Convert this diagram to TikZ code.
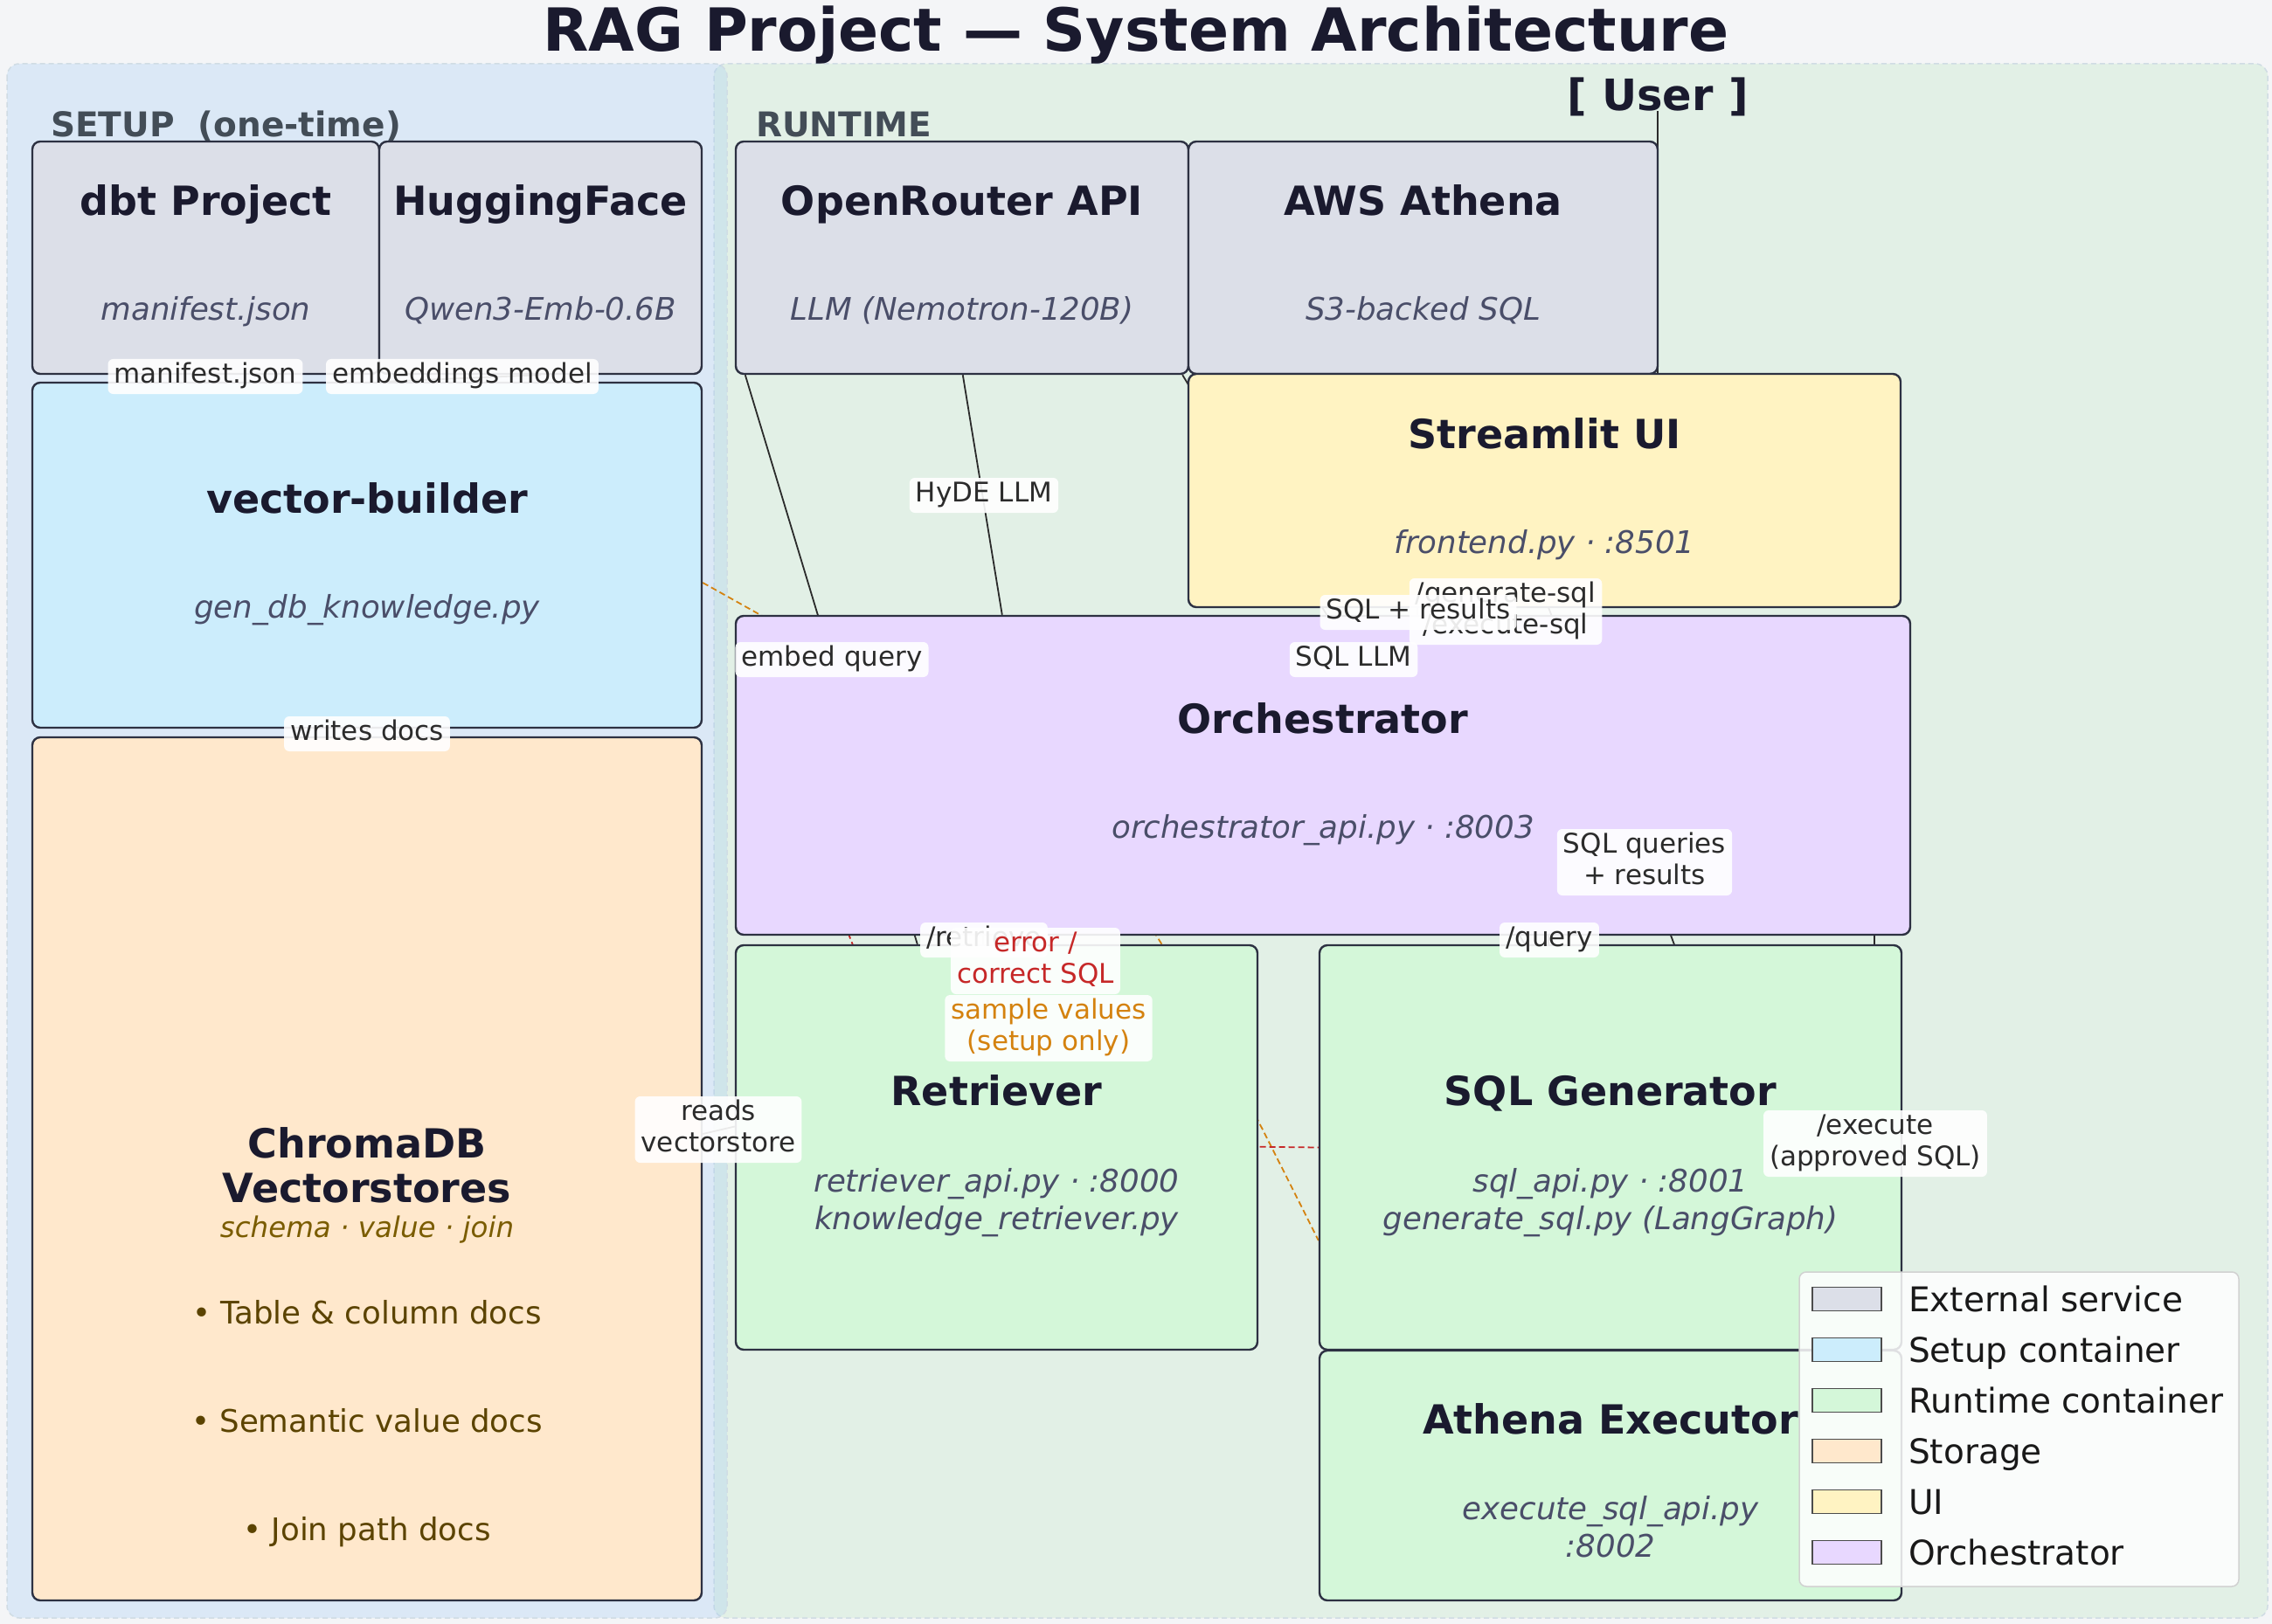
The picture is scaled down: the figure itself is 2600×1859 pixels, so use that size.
\documentclass[tikz,border=0pt]{standalone}
\usepackage{fontspec}
\setmainfont{DejaVu Sans}
\usetikzlibrary{calc}
\pgfdeclarelayer{panel}\pgfdeclarelayer{edges}\pgfdeclarelayer{labels}
\pgfsetlayers{panel,edges,main,labels}
\definecolor{bgc}{HTML}{F4F5F7}
\definecolor{runc}{HTML}{E2F0E6}
\definecolor{setupc}{HTML}{A4CDF4}
\definecolor{extc}{HTML}{DCDFE8}
\definecolor{setbox}{HTML}{CCEDFC}
\definecolor{runbox}{HTML}{D4F7D9}
\definecolor{storc}{HTML}{FFE8CC}
\definecolor{uic}{HTML}{FFF3C2}
\definecolor{orchc}{HTML}{E8D8FF}
\definecolor{ink}{HTML}{1A1A2E}
\definecolor{subc}{HTML}{4A4E69}
\definecolor{edgec}{HTML}{2B2B2B}
\definecolor{boxline}{HTML}{2D3142}
\definecolor{panelink}{HTML}{434D57}
\definecolor{orangec}{HTML}{D4820F}
\definecolor{redc}{HTML}{C62828}
\definecolor{olivec}{HTML}{7A5C00}
\definecolor{brownc}{HTML}{5B4300}
\definecolor{pborder}{HTML}{D0DCE4}
\begin{document}
\begin{tikzpicture}[x=1pt,y=-1pt,
  box/.style={draw=boxline, line width=2.4pt, rounded corners=9pt, inner sep=0pt, fill=#1},
  ttl/.style={anchor=base, text=ink, inner sep=0pt, font=\fontsize{46}{51}\selectfont\bfseries},
  sub/.style={anchor=base, text=subc, inner sep=0pt, font=\fontsize{35.6}{43}\selectfont\itshape},
  bul/.style={anchor=base, text=brownc, inner sep=0pt, font=\fontsize{35.6}{43}\selectfont},
  lbl/.style={fill=white, fill opacity=0.9, text opacity=1, rounded corners=6pt, inner xsep=7pt, inner ysep=2pt, text=edgec, align=center, font=\fontsize{31}{36}\selectfont},
  conn/.style={draw=edgec, line width=1.8pt},
  odash/.style={draw=orangec, line width=1.8pt, dash pattern=on 7pt off 4pt},
  rdash/.style={draw=redc, line width=1.8pt, dash pattern=on 7pt off 4pt},
  panellbl/.style={anchor=base west, text=panelink, inner sep=0pt, font=\fontsize{39}{44}\selectfont\bfseries},
  sw/.style={draw=black!70, line width=1.5pt, minimum width=79pt, minimum height=27pt, inner sep=0pt, fill=#1},
  legtxt/.style={anchor=base west, inner sep=0pt, text=black!90, font=\fontsize{39}{44}\selectfont}
]
\useasboundingbox (0,0) rectangle (2600,1859);
\begin{pgfonlayer}{panel}
\fill[bgc] (0,0) rectangle (2600,1859);
\draw[fill=runc, draw=pborder, line width=1.5pt, dash pattern=on 6pt off 4pt, rounded corners=14pt] (817,73) rectangle (2595,1852);
\draw[fill=setupc, fill opacity=0.3, draw=pborder, line width=1.5pt, dash pattern=on 6pt off 4pt, rounded corners=14pt] (8,73) rectangle (832,1852);
\end{pgfonlayer}

% title and panel labels
\node[anchor=base, text=ink, inner sep=0pt, font=\fontsize{68}{74}\selectfont\bfseries] (title) at (1300,59) {RAG Project — System Architecture};
\node[panellbl] (setuplbl) at (58,157) {SETUP\ \ (one-time)};
\node[panellbl] (runlbl) at (865,157) {RUNTIME};
\node[anchor=base, text=ink, inner sep=0pt, font=\fontsize{49.5}{54}\selectfont\bfseries] (user) at (1897,127) {[ User ]};

% boxes
\node[box=extc, minimum width=397pt, minimum height=266pt] (dbt) at (235.5,295) {};
\node[box=extc, minimum width=369pt, minimum height=266pt] (hf) at (618.5,295) {};
\node[box=extc, minimum width=518pt, minimum height=266pt] (or) at (1101,295) {};
\node[box=extc, minimum width=537pt, minimum height=266pt] (aws) at (1628.5,295) {};
\node[box=setbox, minimum width=766pt, minimum height=395pt] (vb) at (420,635.5) {};
\node[box=storc, minimum width=766pt, minimum height=988pt] (chroma) at (420,1338) {};
\node[box=uic, minimum width=815pt, minimum height=267pt] (st) at (1767.5,561.5) {};
\node[box=orchc, minimum width=1344pt, minimum height=365pt] (orch) at (1514,887.5) {};
\node[box=runbox, minimum width=597pt, minimum height=463pt] (ret) at (1140.5,1313.5) {};
\node[box=runbox, minimum width=666pt, minimum height=463pt] (sqlg) at (1843,1313.5) {};
\node[box=runbox, minimum width=666pt, minimum height=286pt] (aex) at (1843,1689) {};

% box texts
\node[ttl] (dbt-t) at ($(dbt.center)+(0,-48)$) {dbt Project};
\node[sub] (dbt-s) at ($(dbt.center)+(0,72)$) {manifest.json};
\node[ttl] (hf-t) at ($(hf.center)+(0,-48)$) {HuggingFace};
\node[sub] (hf-s) at ($(hf.center)+(0,72)$) {Qwen3-Emb-0.6B};
\node[ttl] (or-t) at ($(or.center)+(0,-48)$) {OpenRouter API};
\node[sub] (or-s) at ($(or.center)+(0,72)$) {LLM (Nemotron-120B)};
\node[ttl] (aws-t) at ($(aws.center)+(0,-48)$) {AWS Athena};
\node[sub] (aws-s) at ($(aws.center)+(0,72)$) {S3-backed SQL};
\node[ttl] (vb-t) at ($(vb.center)+(0,-48)$) {vector-builder};
\node[sub] (vb-s) at ($(vb.center)+(0,72)$) {gen\_db\_knowledge.py};
\node[ttl] (st-t) at ($(st.center)+(0,-48)$) {Streamlit UI};
\node[sub] (st-s) at ($(st.center)+(0,72)$) {frontend.py · :8501};
\node[ttl] (orch-t) at ($(orch.center)+(0,-48)$) {Orchestrator};
\node[sub] (orch-s) at ($(orch.center)+(0,72)$) {orchestrator\_api.py · :8003};
\node[ttl] (ret-t) at ($(ret.center)+(0,-48)$) {Retriever};
\node[sub] (ret-s1) at ($(ret.center)+(0,50.5)$) {retriever\_api.py · :8000};
\node[sub] (ret-s2) at ($(ret.center)+(0,93.5)$) {knowledge\_retriever.py};
\node[ttl] (sqlg-t) at ($(sqlg.center)+(0,-48)$) {SQL Generator};
\node[sub] (sqlg-s1) at ($(sqlg.center)+(0,50.5)$) {sql\_api.py · :8001};
\node[sub] (sqlg-s2) at ($(sqlg.center)+(0,93.5)$) {generate\_sql.py (LangGraph)};
\node[ttl] (aex-t) at ($(aex.center)+(0,-48)$) {Athena Executor};
\node[sub] (aex-s1) at ($(aex.center)+(0,50.5)$) {execute\_sql\_api.py};
\node[sub] (aex-s2) at ($(aex.center)+(0,93.5)$) {:8002};
\node[ttl] (ch-t1) at ($(chroma.center)+(0,-13)$) {ChromaDB};
\node[ttl] (ch-t2) at ($(chroma.center)+(0,38.5)$) {Vectorstores};
\node[sub, text=olivec, font=\fontsize{32.5}{38}\selectfont\itshape] (ch-s) at ($(chroma.center)+(0,78.5)$) {schema · value · join};
\node[bul] (ch-b1) at ($(chroma.center)+(0,177)$) {• Table \& column docs};
\node[bul] (ch-b2) at ($(chroma.center)+(0,301)$) {• Semantic value docs};
\node[bul] (ch-b3) at ($(chroma.center)+(0,425)$) {• Join path docs};

% connectors
\begin{pgfonlayer}{edges}
\draw[conn] (user.base) -- (user.base |- st.north);
\draw[conn] (dbt.south) -- (dbt.south |- vb.north);
\draw[conn] (hf.south) -- ($(vb.north)+(20,0)$);
\draw[conn] (vb.south) -- (chroma.north);
\draw[conn] ($(or.south west)+(12,0)$) -- ($(ret.north west)+(209,0)$);
\draw[conn] ($(or.south west)+(261,0)$) -- ($(orch.north west)+(306,0)$);
\draw[conn] ($(or.south east)+(-8,0)$) -- ($(sqlg.north west)+(236,0)$);
\draw[conn] ($(st.south west)+(363,0)$) -- ($(orch.north west)+(881,0)$);
\draw[conn] ($(st.south west)+(263,0)$) -- ($(orch.north west)+(781,0)$);
\draw[conn] ($(orch.south west)+(284,0)$) -- ($(ret.north west)+(284,0)$);
\draw[conn] ($(orch.south west)+(931,0)$) -- ($(sqlg.north west)+(263,0)$);
\draw[conn] ($(orch.south west)+(1304,0)$) -- ($(aex.north west)+(636,0)$);
\draw[conn] ($(aws.south west)+(314,0)$) -- ($(aex.north west)+(580,0)$);
\draw[conn] ($(ret.west)+(0,-24)$) -- ($(chroma.east)+(0,-40)$);
\draw[odash] ($(vb.east)+(0,31.5)$) .. controls ($(orch.south west)+(418,-150)$) .. ($(sqlg.west)+(0,106.5)$);
\draw[rdash] ($(orch.south west)+(118,-34)$) .. controls ($(ret.north west)+(222,228)$) .. (sqlg.west);
\end{pgfonlayer}

% connector labels
\begin{pgfonlayer}{labels}
\node[lbl] (l-man) at (235,431) {\strut manifest.json};
\node[lbl] (l-emb) at (529,431) {\strut embeddings model};
\node[lbl] (l-wri) at (420,840) {\strut writes docs};
\node[lbl] (l-hyde) at (1126,567) {\strut HyDE LLM};
\node[lbl] (l-eq) at (952,755) {\strut embed query};
\node[lbl] (l-sqlllm) at (1549,755) {\strut SQL LLM};
\node[lbl] (l-gen) at (1723,700) {\strut /generate-sql\\\strut /execute-sql};
\node[lbl] (l-res) at (1623,701) {\strut SQL + results};
\node[lbl] (l-ret) at (1126,1076) {\strut /retrieve};
\node[lbl, text=redc] (l-err) at (1185,1100) {\strut error /\\\strut correct SQL};
\node[lbl, text=orangec] (l-samp) at (1200,1177) {\strut sample values\\\strut (setup only)};
\node[lbl] (l-q) at (1773,1076) {\strut /query};
\node[lbl] (l-sqr) at (1882,987) {\strut SQL queries\\\strut + results};
\node[lbl] (l-exe) at (2146,1309) {\strut /execute\\\strut (approved SQL)};
\node[lbl] (l-rv) at (822,1293) {\strut reads\\\strut vectorstore};

% legend
\draw[fill=white, fill opacity=0.85, draw=black!18, line width=1.5pt, rounded corners=8pt] (2059,1456) rectangle (2562,1816);
\node[sw=extc] (sw1) at (2113.5,1487) {};
\node[sw=setbox] (sw2) at (2113.5,1545) {};
\node[sw=runbox] (sw3) at (2113.5,1603) {};
\node[sw=storc] (sw4) at (2113.5,1661) {};
\node[sw=uic] (sw5) at (2113.5,1719) {};
\node[sw=orchc] (sw6) at (2113.5,1777) {};
\node[legtxt] (lt1) at (2184,1501) {External service};
\node[legtxt] (lt2) at (2184,1559) {Setup container};
\node[legtxt] (lt3) at (2184,1617) {Runtime container};
\node[legtxt] (lt4) at (2184,1675) {Storage};
\node[legtxt] (lt5) at (2184,1733) {UI};
\node[legtxt] (lt6) at (2184,1791) {Orchestrator};
\end{pgfonlayer}
\end{tikzpicture}
\end{document}
